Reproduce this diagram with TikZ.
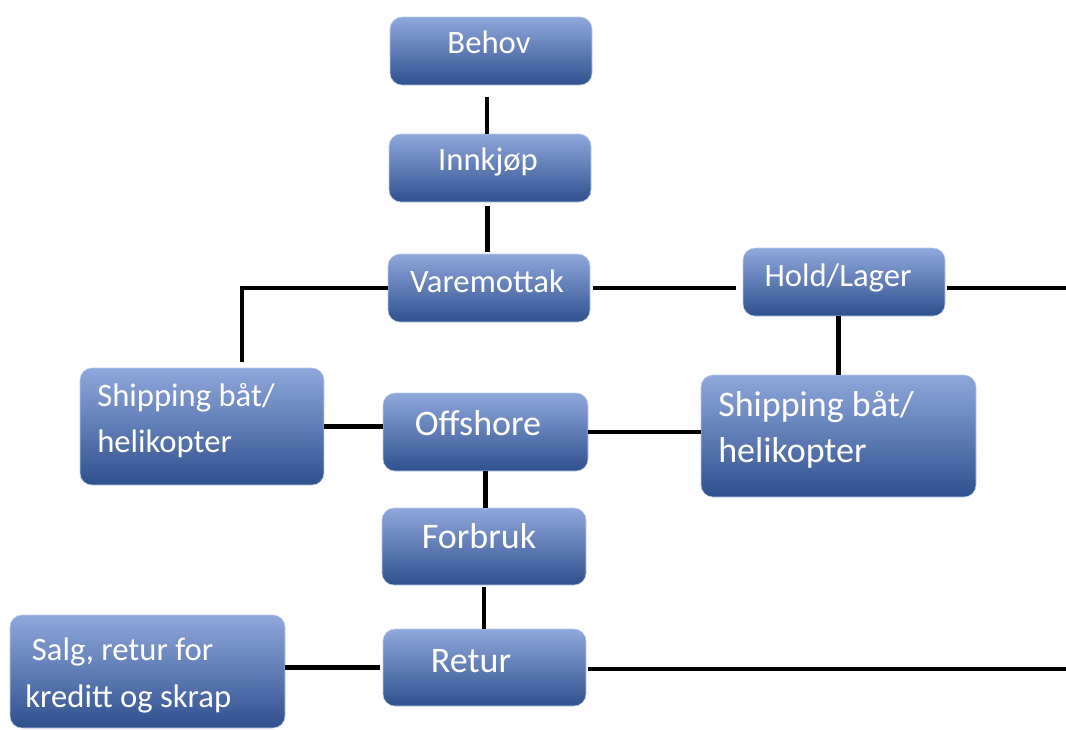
\documentclass[tikz,border=0pt]{standalone}
\usepackage{fontspec}
\setmainfont{Carlito}
\usetikzlibrary{fit}

\definecolor{boxtop}{RGB}{143,168,220}
\definecolor{boxmid}{RGB}{68,114,196}
\definecolor{boxbot}{RGB}{47,80,142}

\tikzset{
	box/.style={rounded corners=9pt, inner sep=0pt, top color=boxtop, middle color=boxmid, bottom color=boxbot, draw=boxtop!60!white, line width=0.4pt},
	txt/.style={text=white, anchor=base, inner sep=0pt, font=\fontsize{24.5}{34}\selectfont},
	bigtxt/.style={txt, font=\fontsize{27}{34}\selectfont},
	twoline/.style={anchor=base west, align=left},
	link/.style={line width=3.4pt}
}

\begin{document}
\begin{tikzpicture}[x=0.75pt,y=-0.75pt]
	\useasboundingbox (0,0) rectangle (1066,729);

	% boxes
	\node[box, fit={(390,17) (592,85)}] (behov) {};
	\node[box, fit={(389,134) (591,202)}] (innkjop) {};
	\node[box, fit={(388,254) (590,322)}] (varemottak) {};
	\node[box, fit={(743,248) (945,316)}] (hold) {};
	\node[box, fit={(80,368) (324,485)}] (shipL) {};
	\node[box, fit={(383,393) (588,471)}] (offshore) {};
	\node[box, fit={(701,375) (976,497)}] (shipR) {};
	\node[box, fit={(382,508) (586,585)}] (forbruk) {};
	\node[box, fit={(10,615) (285,728)}] (salg) {};
	\node[box, fit={(383,629) (586,706)}] (retur) {};

	% texts (two-line ones sit on the baseline of their last line)
	\node[txt] (behov-t) at (489,53) {Behov};
	\node[txt] (innkjop-t) at (488,170) {Innkjøp};
	\node[txt] (varemottak-t) at (487,292) {Varemottak};
	\node[txt] (hold-t) at (838,286) {Hold/Lager};
	\node[txt, twoline] (shipL-t) at (97,452) {Shipping båt/\\helikopter};
	\node[bigtxt] (offshore-t) at (478,435) {Offshore};
	\node[bigtxt, twoline] (shipR-t) at (718,462) {Shipping båt/\\helikopter};
	\node[bigtxt] (forbruk-t) at (479,548) {Forbruk};
	\node[txt, twoline, font=\fontsize{24.5}{35}\selectfont] (salg-t) at (25,707) {\hspace*{5pt}Salg, retur for\\kreditt og skrap};
	\node[bigtxt] (retur-t) at (471,672) {Retur};

	% free ends
	\coordinate (knee) at (242,362);
	\coordinate (holdend) at (1066,288);
	\coordinate (returend) at (1066,669);

	% connectors
	\draw[link, shorten <=9pt] ([xshift=-3pt]behov.south) -- ([xshift=-3pt]behov.south |- innkjop.north);
	\draw[link, shorten <=3pt, shorten >=1.5pt] ([xshift=-2pt]innkjop.south) -- ([xshift=-2pt]innkjop.south |- varemottak.north);
	\draw[link] (varemottak.west) -| (knee);
	\draw[link, shorten <=2pt, shorten >=5pt] (varemottak.east) -- (varemottak.east -| hold.west);
	\draw[link, shorten <=1.5pt] (hold.east |- holdend) -- (holdend);
	\draw[link] ([xshift=-4pt]hold.south) -- ([xshift=-4pt]hold.south |- shipR.north);
	\draw[link] (shipL.east) -- (shipL.east -| offshore.west);
	\draw[link] (offshore.east) -- (offshore.east -| shipR.west);
	\draw[link] (offshore.south) -- (offshore.south |- forbruk.north);
	\draw[link, shorten <=1.5pt] (forbruk.south) -- (forbruk.south |- retur.north);
	\draw[link, shorten <=2pt] (retur.west) -- (retur.west -| salg.east);
	\draw[link, shorten <=1.5pt] (retur.east |- returend) -- (returend);
\end{tikzpicture}
\end{document}
